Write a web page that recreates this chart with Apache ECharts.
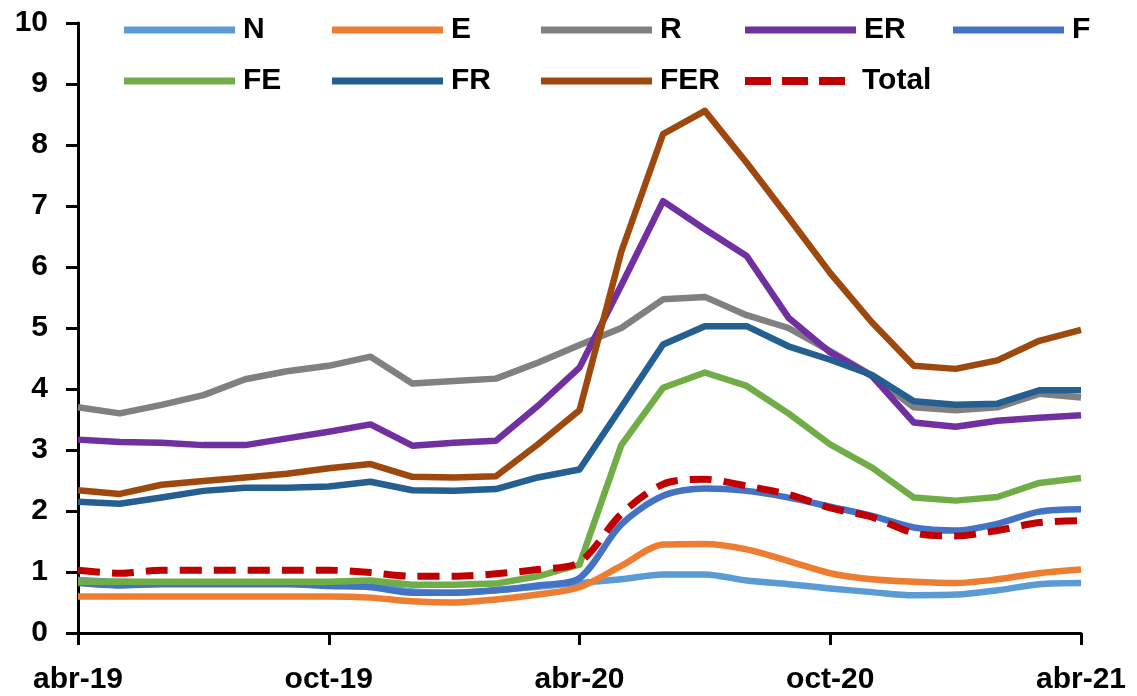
<!DOCTYPE html>
<html>
<head>
<meta charset="utf-8">
<script src="https://cdn.jsdelivr.net/npm/echarts@6/dist/echarts.min.js"></script>
<style>
  html, body { margin: 0; padding: 0; background: #ffffff; }
  #chart { width: 1137px; height: 696px; }
</style>
</head>
<body>
<div id="chart"></div>
<script>
// Monthly series, abr-19 .. abr-21
const months = [
  'abr-19','may-19','jun-19','jul-19','ago-19','sep-19','oct-19','nov-19','dic-19',
  'ene-20','feb-20','mar-20','abr-20','may-20','jun-20','jul-20','ago-20','sep-20',
  'oct-20','nov-20','dic-20','ene-21','feb-21','mar-21','abr-21'
];
const yTicks = [0, 1, 2, 3, 4, 5, 6, 7, 8, 9, 10];

const N     = [0.87,0.84,0.83,0.83,0.83,0.82,0.80,0.78,0.68,0.66,0.70,0.76,0.82,0.88,0.96,0.96,0.86,0.80,0.73,0.67,0.62,0.63,0.70,0.80,0.82];
const E     = [0.60,0.60,0.60,0.60,0.60,0.60,0.60,0.58,0.52,0.50,0.55,0.63,0.75,1.10,1.45,1.46,1.37,1.18,0.98,0.88,0.84,0.82,0.88,0.98,1.04];
const R     = [3.70,3.60,3.74,3.90,4.16,4.29,4.38,4.53,4.09,4.13,4.17,4.43,4.72,5.00,5.47,5.51,5.21,5.00,4.62,4.22,3.70,3.65,3.70,3.92,3.86];
const ER    = [3.17,3.13,3.12,3.08,3.08,3.19,3.30,3.42,3.07,3.12,3.15,3.72,4.35,5.70,7.08,6.62,6.18,5.17,4.60,4.21,3.45,3.38,3.48,3.53,3.57];
const F     = [0.82,0.78,0.80,0.80,0.80,0.80,0.77,0.75,0.66,0.66,0.70,0.78,0.90,1.78,2.25,2.37,2.33,2.22,2.07,1.92,1.73,1.68,1.79,1.99,2.03];
const FE    = [0.84,0.84,0.84,0.84,0.84,0.84,0.84,0.86,0.79,0.79,0.81,0.93,1.12,3.08,4.02,4.27,4.05,3.60,3.09,2.71,2.22,2.17,2.23,2.46,2.54];
const FR    = [2.15,2.12,2.22,2.33,2.38,2.38,2.40,2.48,2.34,2.33,2.36,2.55,2.68,3.70,4.73,5.03,5.03,4.70,4.48,4.23,3.80,3.74,3.76,3.98,3.98];
const FER   = [2.34,2.28,2.43,2.49,2.55,2.61,2.70,2.77,2.56,2.55,2.57,3.09,3.65,6.25,8.18,8.56,7.71,6.81,5.90,5.09,4.38,4.33,4.47,4.79,4.97];
const Total = [1.03,0.98,1.03,1.03,1.03,1.03,1.03,0.99,0.93,0.93,0.97,1.04,1.16,1.95,2.44,2.52,2.41,2.27,2.05,1.90,1.64,1.59,1.68,1.81,1.84];

const seriesDefs = [
  { name: 'N',     data: N,     color: '#5B9BD5', smooth: true },
  { name: 'E',     data: E,     color: '#ED7D31', smooth: true },
  { name: 'R',     data: R,     color: '#808080', smooth: false },
  { name: 'ER',    data: ER,    color: '#7030A0', smooth: false },
  { name: 'F',     data: F,     color: '#4472C4', smooth: true },
  { name: 'FE',    data: FE,    color: '#70AD47', smooth: false },
  { name: 'FR',    data: FR,    color: '#255E91', smooth: false },
  { name: 'FER',   data: FER,   color: '#9E480E', smooth: false },
  { name: 'Total', data: Total, color: '#C00000', smooth: true, dashed: true }
];

const FONT = 'Liberation Sans';
const textBase = { fontFamily: FONT, fontWeight: 'bold', fontSize: 30, color: '#000000' };

// legend icons: a plain bar, and three short dashes for the dashed series
const BAR_ICON = 'rect';
const DASH_ICON = 'path://M0,0h26v8h-26z M37,0h26v8h-26z M74,0h26v8h-26z';

// legend laid out on a 5-column grid, two rows
const legendColX = [124, 332, 541, 745, 953];
const legendRowY = [30, 81];

const legends = seriesDefs.map((s, i) => ({
  data: [{ name: s.name, icon: s.dashed ? DASH_ICON : BAR_ICON }],
  left: legendColX[i % 5],
  top: legendRowY[Math.floor(i / 5)] - 15,
  padding: 0,
  itemGap: 0,
  itemWidth: s.dashed ? 100 : 111,
  itemHeight: s.dashed ? 8 : 7,
  selectedMode: false,
  itemStyle: { color: s.color, borderWidth: 0 },
  textStyle: Object.assign({}, textBase, { padding: [0, 0, 0, s.dashed ? 12 : 3] })
}));

const chart = echarts.init(document.getElementById('chart'), null, { renderer: 'canvas' });
chart.setOption({
  animation: false,
  backgroundColor: '#ffffff',
  legend: legends,
  grid: { left: 78, right: 56, top: 23, bottom: 63, containLabel: false },
  xAxis: {
    type: 'category',
    data: months,
    boundaryGap: false,
    axisLine: { lineStyle: { color: '#000', width: 3 } },
    axisTick: { show: true, interval: 5, length: 12, lineStyle: { color: '#000', width: 3 } },
    axisLabel: Object.assign({ interval: 5, margin: 32 }, textBase),
    splitLine: { show: false }
  },
  yAxis: {
    type: 'value',
    min: yTicks[0],
    max: yTicks[yTicks.length - 1],
    interval: 1,
    axisLine: { show: true, lineStyle: { color: '#000', width: 3 } },
    axisTick: { show: true, length: 12, lineStyle: { color: '#000', width: 3 } },
    axisLabel: Object.assign({ margin: 30 }, textBase),
    splitLine: { show: false }
  },
  series: seriesDefs.map(s => ({
    name: s.name,
    type: 'line',
    data: s.data,
    symbol: 'none',
    smooth: s.smooth ? 0.3 : false,
    color: s.color,
    lineStyle: {
      color: s.color,
      width: s.dashed ? 7 : 6.5,
      type: s.dashed ? [22, 12] : 'solid',
      cap: 'butt',
      join: 'round'
    },
    emphasis: { disabled: true }
  }))
});
</script>
</body>
</html>
